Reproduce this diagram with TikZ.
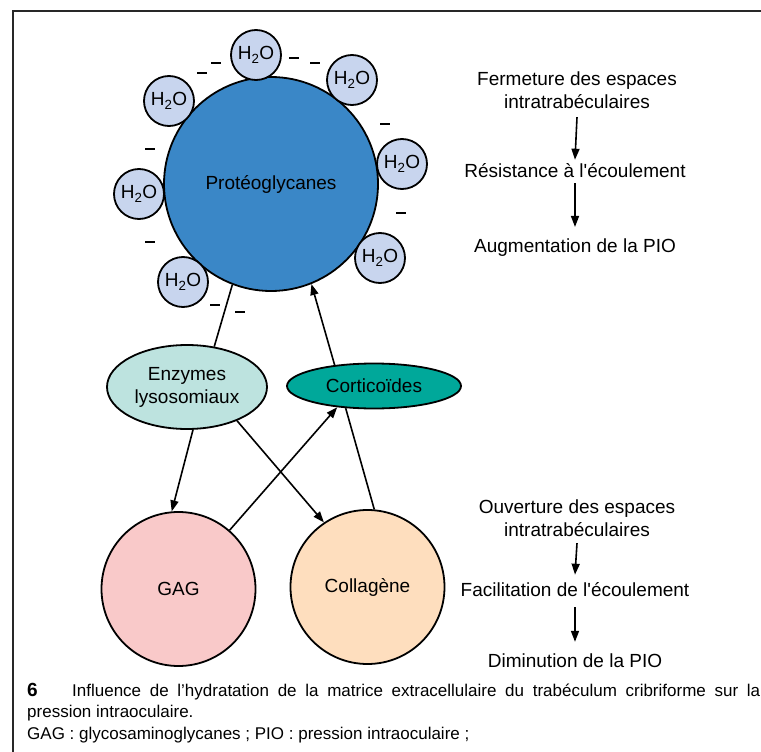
\documentclass[tikz,border=0pt]{standalone}
\usepackage{fontspec}
\setmainfont{Liberation Sans}[Ligatures=TeXOff]
\usetikzlibrary{arrows.meta,shapes.geometric,calc}
\definecolor{pgblue}{RGB}{58,135,199}
\definecolor{waterblue}{RGB}{200,213,238}
\definecolor{enzcol}{RGB}{189,227,223}
\definecolor{cortcol}{RGB}{0,168,154}
\definecolor{gagcol}{RGB}{249,201,201}
\definecolor{collcol}{RGB}{254,222,190}
\definecolor{framecol}{RGB}{40,40,40}
\begin{document}
\begin{tikzpicture}[x=1pt,y=-1pt,
  font=\fontsize{19}{23}\selectfont,
  outl/.style={draw=black,line width=1.8pt},
  water/.style={circle,outl,fill=waterblue,minimum size=50pt,inner sep=0pt},
  charge/.style={rectangle,fill=black,minimum width=10.5pt,minimum height=2.8pt,inner sep=0pt},
  link/.style={line width=1.6pt},
  arr/.style={link,-{Triangle[length=11pt,width=8pt]}},
  steptext/.style={align=center,inner sep=0pt},
  captext/.style={anchor=base west,inner sep=0pt,font=\fontsize{17}{21}\selectfont},
]
\useasboundingbox (0,0) rectangle (761,752);
\draw[line width=2pt,framecol] (13,752) -- (13,11) -- (761,11);

% proteoglycan and water shell
\node[circle,outl,fill=pgblue,minimum size=214pt,inner sep=0pt] (pg) at (271,184) {Protéoglycanes};
\node[water] (w1) at (256,55) {H\textsubscript{2}O};
\node[water] (w2) at (352,80) {H\textsubscript{2}O};
\node[water] (w3) at (402,164) {H\textsubscript{2}O};
\node[water] (w4) at (380,258) {H\textsubscript{2}O};
\node[water] (w5) at (183,282) {H\textsubscript{2}O};
\node[water] (w6) at (139,194) {H\textsubscript{2}O};
\node[water] (w7) at (169,101) {H\textsubscript{2}O};

% negative charges
\node[charge] (c1) at (216,63) {};
\node[charge] (c2) at (202,73) {};
\node[charge] (c3) at (294,58) {};
\node[charge] (c4) at (315,63) {};
\node[charge] (c5) at (385,124) {};
\node[charge] (c6) at (401,213) {};
\node[charge] (c7) at (150,149) {};
\node[charge] (c8) at (150,242) {};
\node[charge] (c9) at (215,305) {};
\node[charge] (c10) at (240,312) {};

% lower nodes
\node[ellipse,outl,fill=enzcol,minimum width=160pt,minimum height=84pt,inner sep=0pt,align=center] (enz) at (187,387) {Enzymes\\lysosomiaux};
\node[ellipse,outl,fill=cortcol,minimum width=174pt,minimum height=45pt,inner sep=0pt] (cort) at (374,386) {Corticoïdes};
\node[circle,outl,fill=gagcol,minimum size=154pt,inner sep=0pt] (gag) at (178.5,589) {GAG};
\node[circle,outl,fill=collcol,minimum size=154pt,inner sep=0pt] (coll) at (367.5,587) {Collagène};

% connectors
\draw[link] (enz.56) -- (pg.-111);
\draw[arr] (cort.152) -- (pg.-68);
\draw[link] (coll.85.5) -- (cort.-142);
\draw[arr] (enz.-82) -- (gag.95.6);
\draw[arr] (enz.-34) -- (coll.124.4);
\draw[arr] (gag.49) -- (cort.-150);

% right column, top
\node[steptext] (fer) at (577,90.5) {Fermeture des espaces\\intratrabéculaires};
\node[steptext] (res) at (575,171) {Résistance à l'écoulement};
\node[steptext] (aug) at (575,248) {Augmentation de la PIO};
\draw[arr] ($(fer.south)+(0,8)$) -- ($(res.north)+(0,-4)$);
\draw[arr] ($(res.south)+(0,5)$) -- ($(aug.north)+(0,-12)$);

% right column, bottom
\node[steptext] (ouv) at (577,518.5) {Ouverture des espaces\\intratrabéculaires};
\node[steptext] (fac) at (575,590) {Facilitation de l'écoulement};
\node[steptext] (dim) at (575,661) {Diminution de la PIO};
\draw[arr] ($(ouv.south)+(0,6)$) -- ($(fac.north)+(0,-8)$);
\draw[arr] ($(fac.south)+(0,10)$) -- ($(dim.north)+(0,-12)$);

% caption
\node[captext,font=\fontsize{19}{21}\selectfont\bfseries] (num) at (27,696) {6};
\node[captext] (cap1) at (72,696) {\makebox[688pt][s]{Influence de l’hydratation de la matrice extracellulaire du trabéculum cribriforme sur la}};
\node[captext] (cap2) at (27,717) {pression intraoculaire.};
\node[captext] (cap3) at (27,739) {GAG : glycosaminoglycanes ; PIO : pression intraoculaire ;};
\end{tikzpicture}
\end{document}
